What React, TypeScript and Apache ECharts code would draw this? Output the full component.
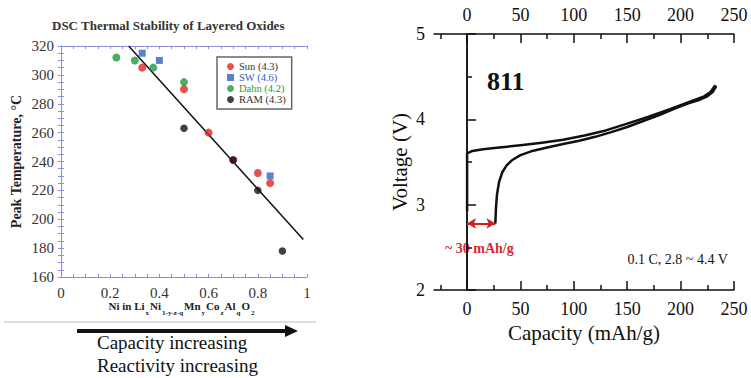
import React, { useEffect, useRef } from 'react';
import * as echarts from 'echarts';

const SERIF = 'Liberation Serif, serif';

// Left chart: DSC peak temperature vs Ni content
const sunNi = [0.33, 0.5, 0.6, 0.7, 0.8, 0.85];
const sunT = [305, 290, 260, 241, 232, 225];
const swNi = [0.33, 0.4, 0.85];
const swT = [315, 310, 230];
const dahnNi = [0.225, 0.3, 0.375, 0.5];
const dahnT = [312, 310, 305, 295];
const ramNi = [0.5, 0.7, 0.8, 0.9];
const ramT = [263, 241, 220, 178];
const trendNi = [0.275, 0.985];
const trendT = [320, 186];

// Right chart: first cycle voltage profile of NCM811
const capTicks = [0, 50, 100, 150, 200, 250];
const capMinorTicks = [-25, 25, 75, 125, 175, 225];
const chargeCap = [0, 0, 5, 15, 30, 50, 70, 90, 110, 130, 150, 170, 190, 205, 215, 222, 228, 232];
const chargeV = [2.93, 3.6, 3.63, 3.65, 3.67, 3.695, 3.725, 3.76, 3.81, 3.87, 3.95, 4.03, 4.12, 4.19, 4.235, 4.27, 4.32, 4.39];
const dischargeCap = [233, 230, 225, 218, 208, 195, 180, 165, 150, 135, 120, 105, 90, 75, 60, 50, 42, 37, 33, 30, 28, 27, 26.5];
const dischargeV = [4.38, 4.32, 4.27, 4.23, 4.19, 4.13, 4.05, 3.98, 3.91, 3.85, 3.795, 3.75, 3.71, 3.67, 3.625, 3.58, 3.52, 3.46, 3.38, 3.27, 3.12, 2.95, 2.79];
const gapCap = [0, 26.5];
const gapV = 2.78;

const zip = (xs: number[], ys: number[]) => xs.map((x, i) => [x, ys[i]]);

const LAV = '#8c8ce0';
const RED = '#e02424';
const BLUE = '#3260c0';
const GREEN = '#1e9a3c';
const BLACK = '#111111';

export default function App() {
  const ref = useRef<HTMLDivElement>(null);
  useEffect(() => {
    if (!ref.current) return;
    const chart = echarts.init(ref.current, undefined, { renderer: 'svg' });
    const lavAxis = (position: string, showLabel: boolean) => ({
      gridIndex: 0,
      type: 'value',
      position,
      axisLine: { show: true, lineStyle: { color: LAV, width: 1 } },
      axisTick: { show: true, inside: true, length: 3, lineStyle: { color: LAV } },
      splitLine: { show: false },
      axisLabel: { show: showLabel },
    });
    const option: any = {
      animation: false,
      backgroundColor: '#ffffff',
      textStyle: { fontFamily: SERIF },
      grid: [
        { left: 61, right: 444, top: 46, bottom: 101 },
        { left: 434, right: 17, top: 34, bottom: 88 },
      ],
      legend: {
        orient: 'vertical',
        left: 217,
        top: 57,
        padding: [4, 6, 4, 10],
        itemGap: 0,
        itemWidth: 7,
        itemHeight: 7,
        borderColor: '#666',
        borderWidth: 1.5,
        backgroundColor: '#fff',
        textStyle: { fontFamily: SERIF, fontSize: 10.5 },
        data: [
          { name: 'Sun (4.3)', textStyle: { color: '#333' } },
          { name: 'SW (4.6)', textStyle: { color: BLUE } },
          { name: 'Dahn (4.2)', textStyle: { color: GREEN } },
          { name: 'RAM (4.3)', textStyle: { color: '#333' } },
        ],
      },
      xAxis: [
        {
          ...lavAxis('bottom', true),
          min: 0,
          max: 1,
          interval: 0.05,
          axisLabel: {
            show: true,
            margin: 8,
            fontFamily: SERIF,
            fontSize: 15,
            color: '#333',
            formatter: (v: number) => (Math.abs(v * 5 - Math.round(v * 5)) < 1e-6 ? String(+v.toFixed(1)) : ''),
          },
        },
        { ...lavAxis('top', false), min: 0, max: 1, interval: 0.05 },
        {
          gridIndex: 1,
          type: 'value',
          position: 'bottom',
          min: -31,
          max: 250,
          name: 'Capacity (mAh/g)',
          nameLocation: 'middle',
          nameGap: 30,
          nameTextStyle: { fontFamily: SERIF, fontSize: 21, color: '#111' },
          axisLine: { show: true, lineStyle: { color: '#111', width: 1.5 } },
          axisTick: { show: true, inside: true, length: 9, customValues: capTicks, lineStyle: { color: '#111', width: 1.5 } },
          axisLabel: { show: true, customValues: capTicks, margin: 10, fontFamily: SERIF, fontSize: 18, color: '#111' },
          splitLine: { show: false },
        },
        {
          gridIndex: 1,
          type: 'value',
          position: 'bottom',
          min: -31,
          max: 250,
          axisLine: { show: false },
          axisTick: { show: true, inside: true, length: 5, customValues: capMinorTicks, lineStyle: { color: '#111', width: 1.5 } },
          axisLabel: { show: false },
          splitLine: { show: false },
        },
        {
          gridIndex: 1,
          type: 'value',
          position: 'top',
          min: -31,
          max: 250,
          axisLine: { show: true, lineStyle: { color: '#111', width: 1.5 } },
          axisTick: { show: true, inside: true, length: 9, customValues: capTicks, lineStyle: { color: '#111', width: 1.5 } },
          axisLabel: { show: true, customValues: capTicks, margin: 10, fontFamily: SERIF, fontSize: 18, color: '#111' },
          splitLine: { show: false },
        },
        {
          gridIndex: 1,
          type: 'value',
          position: 'top',
          min: -31,
          max: 250,
          axisLine: { show: false },
          axisTick: { show: true, inside: true, length: 5, customValues: capMinorTicks, lineStyle: { color: '#111', width: 1.5 } },
          axisLabel: { show: false },
          splitLine: { show: false },
        },
      ],
      yAxis: [
        {
          ...lavAxis('left', true),
          min: 160,
          max: 320,
          interval: 5,
          name: 'Peak Temperature, °C',
          nameLocation: 'middle',
          nameGap: 38,
          nameTextStyle: { fontFamily: SERIF, fontSize: 14, fontWeight: 'bold', color: '#222' },
          axisLabel: {
            show: true,
            margin: 7,
            fontFamily: SERIF,
            fontSize: 15,
            color: '#333',
            formatter: (v: number) => (Math.round(v) % 20 === 0 ? String(Math.round(v)) : ''),
          },
        },
        { ...lavAxis('right', false), min: 160, max: 320, interval: 5 },
        {
          gridIndex: 1,
          type: 'value',
          position: 'left',
          min: 2,
          max: 5,
          interval: 1,
          name: 'Voltage (V)',
          nameLocation: 'middle',
          nameGap: 24,
          nameTextStyle: { fontFamily: SERIF, fontSize: 21, color: '#111' },
          axisLine: { show: true, lineStyle: { color: '#111', width: 1.5 } },
          axisTick: { show: true, inside: true, length: 9, lineStyle: { color: '#111', width: 1.5 } },
          minorTick: { show: true, splitNumber: 2, length: 5, lineStyle: { color: '#111', width: 1.5 } },
          axisLabel: { show: true, margin: 9, fontFamily: SERIF, fontSize: 18, color: '#111' },
          splitLine: { show: false },
        },
        {
          gridIndex: 1,
          type: 'value',
          position: 'right',
          min: 2,
          max: 5,
          interval: 1,
          axisLine: { show: true, lineStyle: { color: '#111', width: 1.5 } },
          axisTick: { show: false },
          axisLabel: { show: false },
          splitLine: { show: false },
        },
      ],
      series: [
        {
          name: 'Sun (4.3)', type: 'scatter', xAxisIndex: 0, yAxisIndex: 0,
          symbol: 'circle', symbolSize: 8, itemStyle: { color: RED }, data: zip(sunNi, sunT),
        },
        {
          name: 'SW (4.6)', type: 'scatter', xAxisIndex: 0, yAxisIndex: 0,
          symbol: 'rect', symbolSize: 7, itemStyle: { color: BLUE }, data: zip(swNi, swT),
        },
        {
          name: 'Dahn (4.2)', type: 'scatter', xAxisIndex: 0, yAxisIndex: 0,
          symbol: 'circle', symbolSize: 8, itemStyle: { color: GREEN }, data: zip(dahnNi, dahnT),
        },
        {
          name: 'RAM (4.3)', type: 'scatter', xAxisIndex: 0, yAxisIndex: 0, z: 3,
          symbol: 'circle', symbolSize: 7.5, itemStyle: { color: BLACK }, data: zip(ramNi, ramT),
        },
        {
          name: 'Trend', type: 'line', xAxisIndex: 0, yAxisIndex: 0, z: 1,
          showSymbol: false, symbol: 'none', lineStyle: { color: BLACK, width: 1.5 }, data: zip(trendNi, trendT),
        },
        {
          name: 'Charge', type: 'line', xAxisIndex: 2, yAxisIndex: 2,
          showSymbol: false, symbol: 'none', smooth: false,
          lineStyle: { color: BLACK, width: 2.5, join: 'round', cap: 'round' }, data: zip(chargeCap, chargeV),
        },
        {
          name: 'Discharge', type: 'line', xAxisIndex: 2, yAxisIndex: 2,
          showSymbol: false, symbol: 'none', smooth: false,
          lineStyle: { color: BLACK, width: 2.5, join: 'round', cap: 'round' }, data: zip(dischargeCap, dischargeV),
          markLine: {
            silent: true,
            symbol: ['arrow', 'arrow'],
            symbolSize: [8, 9],
            label: { show: false },
            lineStyle: { color: '#cc2222', width: 2, type: 'solid' },
            data: [[{ coord: [gapCap[0], gapV] }, { coord: [gapCap[1], gapV] }]],
          },
        },
      ],
      graphic: [
        {
          type: 'text', left: 52, top: 19,
          style: { text: 'DSC Thermal Stability of Layered Oxides', fontFamily: SERIF, fontSize: 13, fontWeight: 'bold', fill: '#333' },
        },
        {
          type: 'text', x: 182, y: 300,
          style: {
            text: '{n|Ni in Li}{s|x}{n|Ni}{s|1-y-z-q}{n|Mn}{s|y}{n|Co}{s|z}{n|Al}{s|q}{n|O}{s|2}',
            align: 'center',
            rich: {
              n: { fontFamily: SERIF, fontSize: 11, fontWeight: 'bold', fill: '#222', verticalAlign: 'top', lineHeight: 12 },
              s: { fontFamily: SERIF, fontSize: 7, fontWeight: 'bold', fill: '#222', verticalAlign: 'top', lineHeight: 12, padding: [9, 1, 0, 1] },
            },
          },
        },
        { type: 'line', shape: { x1: 4, y1: 322, x2: 316, y2: 322 }, style: { stroke: '#dddddd', lineWidth: 2 } },
        { type: 'line', shape: { x1: 77, y1: 331, x2: 287, y2: 331 }, style: { stroke: '#111', lineWidth: 4 } },
        { type: 'polygon', shape: { points: [[285, 325], [298, 331], [285, 337]] }, style: { fill: '#111' } },
        {
          type: 'text', left: 97, top: 333,
          style: { text: 'Capacity increasing', fontFamily: SERIF, fontSize: 19, fill: '#111' },
        },
        {
          type: 'text', left: 97, top: 356,
          style: { text: 'Reactivity increasing', fontFamily: SERIF, fontSize: 19, fill: '#111' },
        },
        {
          type: 'text', left: 487, top: 68,
          style: { text: '811', fontFamily: SERIF, fontSize: 26, fontWeight: 'bold', fill: '#111' },
        },
        {
          type: 'text', left: 445, top: 241,
          style: { text: '~ 30 mAh/g', fontFamily: SERIF, fontSize: 14, fontWeight: 'bold', fill: '#d42a2a' },
        },
        {
          type: 'text', right: 23, top: 252,
          style: { text: '0.1 C, 2.8 ~ 4.4 V', fontFamily: SERIF, fontSize: 14, fill: '#111' },
        },
      ],
    };
    chart.setOption(option);
    return () => chart.dispose();
  }, []);
  return <div ref={ref} style={{ position: 'fixed', left: 0, top: 0, width: 751, height: 378, background: '#fff' }} />;
}
